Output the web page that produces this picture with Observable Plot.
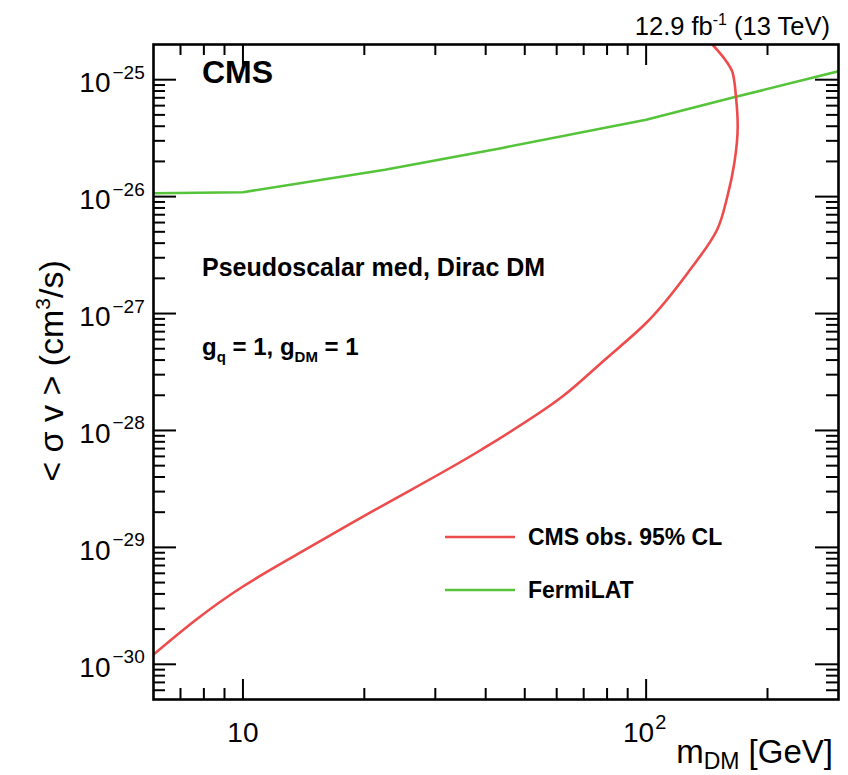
<!DOCTYPE html>
<html>
<head>
<meta charset="utf-8">
<script src="https://cdn.jsdelivr.net/npm/d3@7"></script>
<script src="https://cdn.jsdelivr.net/npm/@observablehq/plot@0.6"></script>
<style>
  html, body { margin: 0; padding: 0; background: #ffffff; }
  svg { display: block; }
</style>
</head>
<body>
<div id="chart"></div>
<script>
// ---- data ----
const cmsMass    = [6, 10, 14, 20, 39, 62, 79, 100, 128.5, 150, 159, 165.5, 168.7, 167, 164, 158, 146];
const cmsSigmaV  = [1.21e-30, 4.63e-30, 9.2e-30, 1.86e-29, 6.84e-29, 1.95e-28, 4.03e-28, 8.3e-28,
                    2.37e-27, 5.21e-27, 1.0e-26, 1.94e-26, 3.98e-26, 7.19e-26, 1.14e-25, 1.44e-25, 2.0e-25];
const fermiMass   = [6, 10, 22.5, 44, 100, 166, 300];
const fermiSigmaV = [1.07e-26, 1.09e-26, 1.70e-26, 2.61e-26, 4.55e-26, 7.11e-26, 1.18e-25];

const xMajorTicks = [10, 100];
const xTickBase = ["10", "10"];
const xTickExponent = ["", "2"];
const xMinorTicks = [7, 8, 9, 20, 30, 40, 50, 60, 70, 80, 90, 200];

const yMajorTicks = [1e-30, 1e-29, 1e-28, 1e-27, 1e-26, 1e-25];
const yTickExponent = ["\u221230", "\u221229", "\u221228", "\u221227", "\u221226", "\u221225"];
const yMinorMultipliers = [2, 3, 4, 5, 6, 7, 8, 9];
const yMinorDecades = [1e-31, 1e-30, 1e-29, 1e-28, 1e-27, 1e-26];

const seriesNames = ["CMS obs. 95% CL", "FermiLAT"];
const seriesColors = ["#ee4c4c", "#55c43a"];

// ---- layout ----
const W = 848, H = 775, mL = 153, mR = 10, mT = 44, mB = 76;
const fw = W - mL - mR, fh = H - mT - mB;
const xDomain = [6, 300], yDomain = [5e-31, 2e-25];
const FONT = "'Liberation Sans', Arial, Helvetica, sans-serif";

const cms = cmsMass.map((m, i) => ({m, sv: cmsSigmaV[i]}));
const fermi = fermiMass.map((m, i) => ({m, sv: fermiSigmaV[i]}));
const yMinorTicks = yMinorDecades.flatMap(d => yMinorMultipliers.map(k => k * d))
  .filter(v => v > yDomain[0] * 1.001 && v < yDomain[1] * 0.999);
const xLab = xMajorTicks.map((v, i) => ({v, base: xTickBase[i], exp: xTickExponent[i]}));

const chart = Plot.plot({
  width: W, height: H,
  marginLeft: mL, marginRight: mR, marginTop: mT, marginBottom: mB,
  style: {fontFamily: FONT, background: "#ffffff", color: "#000"},
  x: {type: "log", domain: xDomain, axis: null},
  y: {type: "log", domain: yDomain, axis: null},
  marks: [
    Plot.line(fermi, {x: "m", y: "sv", stroke: seriesColors[1], strokeWidth: 2.6, clip: true}),
    Plot.line(cms, {x: "m", y: "sv", stroke: seriesColors[0], strokeWidth: 2.6, clip: true,
      curve: "monotone-y"}),
    // inward ticks, mirrored on all sides
    Plot.tickX(xMajorTicks, {x: d => d, insetTop: fh - 20, stroke: "#000", strokeWidth: 2}),
    Plot.tickX(xMajorTicks, {x: d => d, insetBottom: fh - 21, stroke: "#000", strokeWidth: 2}),
    Plot.tickX(xMinorTicks, {x: d => d, insetTop: fh - 11, stroke: "#000", strokeWidth: 2}),
    Plot.tickX(xMinorTicks, {x: d => d, insetBottom: fh - 11, stroke: "#000", strokeWidth: 2}),
    Plot.tickY(yMajorTicks, {y: d => d, insetRight: fw - 23, stroke: "#000", strokeWidth: 2}),
    Plot.tickY(yMajorTicks, {y: d => d, insetLeft: fw - 23, stroke: "#000", strokeWidth: 2}),
    Plot.tickY(yMinorTicks, {y: d => d, insetRight: fw - 12, stroke: "#000", strokeWidth: 2}),
    Plot.tickY(yMinorTicks, {y: d => d, insetLeft: fw - 12, stroke: "#000", strokeWidth: 2}),
    Plot.frame({stroke: "#000", strokeWidth: 2.6}),
    // y tick labels 10^{n}
    Plot.text(yMajorTicks, {y: d => d, text: () => "10", frameAnchor: "left", textAnchor: "end",
      lineAnchor: "bottom", dx: -43, dy: 12.5, fontSize: 28}),
    Plot.text(yMajorTicks, {y: d => d, text: (d, i) => yTickExponent[i], frameAnchor: "left",
      textAnchor: "start", lineAnchor: "bottom", dx: -41, dy: -1, fontSize: 19}),
    // x tick labels
    Plot.text(xLab.filter(d => !d.exp), {x: "v", text: "base", frameAnchor: "bottom",
      textAnchor: "middle", lineAnchor: "bottom", dy: 42, fontSize: 28}),
    Plot.text(xLab.filter(d => d.exp), {x: "v", text: "base", frameAnchor: "bottom",
      textAnchor: "end", lineAnchor: "bottom", dx: 8, dy: 42, fontSize: 28}),
    Plot.text(xLab.filter(d => d.exp), {x: "v", text: "exp", frameAnchor: "bottom",
      textAnchor: "start", lineAnchor: "bottom", dx: 9, dy: 29, fontSize: 20})
  ]
});

document.getElementById("chart").appendChild(chart);

// ---- annotations (rich text with sub/superscripts) ----
const svg = d3.select(chart);
const ann = svg.append("g").attr("font-family", FONT).attr("fill", "#000");

function richText(x, y, parts, {anchor = "start", weight = "normal", size = 24, rotate = 0} = {}) {
  const t = ann.append("text")
    .attr("text-anchor", anchor)
    .attr("font-weight", weight)
    .attr("font-size", size)
    .style("white-space", "pre");
  if (rotate) t.attr("transform", `translate(${x},${y}) rotate(${rotate})`);
  else t.attr("x", x).attr("y", y);
  let cur = 0;
  for (const p of parts) {
    const [txt, fs = size, shift = 0] = p;
    t.append("tspan").attr("font-size", fs).attr("dy", shift - cur).text(txt);
    cur = shift;
  }
  return t;
}

richText(202, 83, [["CMS"]], {weight: "bold", size: 32});
richText(830, 35, [["12.9 fb"], ["-1", 16, -10], [" (13 TeV)", 25.5, 0]], {anchor: "end", size: 25.5});
richText(202, 276, [["Pseudoscalar med, Dirac DM"]], {weight: "bold", size: 25});
richText(202, 355, [["g"], ["q", 15, 7], [" = 1, g", 24, 0], ["DM", 15, 7], [" = 1", 24, 0]],
  {weight: "bold", size: 24});

// legend
const legendY = [537, 590];
seriesNames.forEach((name, i) => {
  ann.append("line").attr("x1", 445).attr("x2", 515).attr("y1", legendY[i]).attr("y2", legendY[i])
    .attr("stroke", seriesColors[i]).attr("stroke-width", 2.6);
  richText(528, legendY[i] + 8, [[name]], {weight: "bold", size: 23});
});

// axis titles
richText(833, 763, [["m"], ["DM", 23, 6], [" [GeV]", 33, 0]], {anchor: "end", size: 33});
richText(63, 371, [["< \u03c3 v > (cm"], ["3", 21, -13], ["/s)", 34, 0]],
  {anchor: "middle", size: 34, rotate: -90});
</script>
</body>
</html>
